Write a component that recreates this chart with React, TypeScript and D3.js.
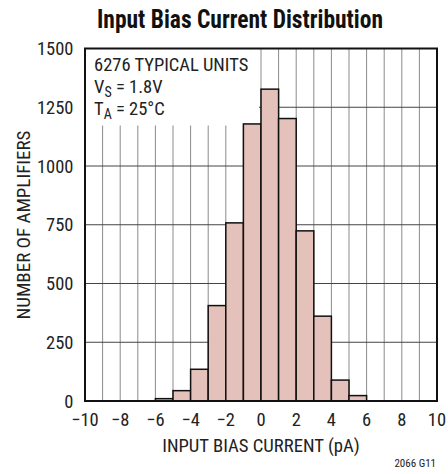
import * as d3 from 'd3';
import React, { useEffect, useRef } from 'react';

// histogram bins: lower edge (pA) and count
const binStarts = [-6, -5, -4, -3, -2, -1, 0, 1, 2, 3, 4, 5];
const binCounts = [10, 44, 135, 406, 758, 1179, 1327, 1202, 724, 361, 89, 23];
const xTicks = [-10, -8, -6, -4, -2, 0, 2, 4, 6, 8, 10];
const yTicks = [0, 250, 500, 750, 1000, 1250, 1500];

const FONT = '"Liberation Sans Narrow", "Roboto Condensed", "Arial Narrow", sans-serif';

const App = (): React.JSX.Element => {
	const ref = useRef<SVGSVGElement | null>(null);

	useEffect(() => {
		if (ref.current === null) return;
		const root = d3.select(ref.current);
		root.selectAll('*').remove();

		const width = 448;
		const height = 474;
		const margin = { top: 48.5, right: 11, bottom: 73, left: 85 };

		const x = d3.scaleLinear().domain([-10, 10]).range([margin.left, width - margin.right]);
		const y = d3.scaleLinear().domain([0, 1500]).range([height - margin.bottom, margin.top]);

		const svg = root
			.attr('width', width)
			.attr('height', height)
			.style('font-family', FONT);

		svg.append('rect').attr('width', width).attr('height', height).attr('fill', '#fff');

		// grid
		const grid = svg.append('g');
		grid.selectAll('line.v')
			.data(d3.range(-9, 10))
			.enter()
			.append('line')
			.attr('x1', (d) => x(d))
			.attr('x2', (d) => x(d))
			.attr('y1', y(0))
			.attr('y2', y(1500))
			.attr('stroke', '#8a8a8a')
			.attr('stroke-width', 1);
		grid.selectAll('line.h')
			.data(yTicks.slice(1, -1))
			.enter()
			.append('line')
			.attr('x1', x(-10))
			.attr('x2', x(10))
			.attr('y1', (d) => y(d))
			.attr('y2', (d) => y(d))
			.attr('stroke', '#444')
			.attr('stroke-width', 1);

		// white annotation box
		svg.append('rect')
			.attr('x', x(-10))
			.attr('y', y(1500))
			.attr('width', 174)
			.attr('height', 77)
			.attr('fill', '#fff');

		// bars
		svg.selectAll('rect.bar')
			.data(binStarts)
			.enter()
			.append('rect')
			.attr('class', 'bar')
			.attr('x', (d) => x(d))
			.attr('y', (_, i) => y(binCounts[i]))
			.attr('width', (d) => x(d + 1) - x(d))
			.attr('height', (_, i) => y(0) - y(binCounts[i]))
			.attr('fill', '#e4c1bb')
			.attr('stroke', '#111')
			.attr('stroke-width', 1.5);

		// frame
		svg.append('rect')
			.attr('x', x(-10))
			.attr('y', y(1500))
			.attr('width', x(10) - x(-10))
			.attr('height', y(0) - y(1500))
			.attr('fill', 'none')
			.attr('stroke', '#111')
			.attr('stroke-width', 2);

		// axes labels
		svg.selectAll('text.yt')
			.data(yTicks)
			.enter()
			.append('text')
			.attr('x', 73.5)
			.attr('y', (d) => y(d))
			.attr('dy', '0.36em')
			.attr('text-anchor', 'end')
			.attr('font-size', 18.5)
			.attr('fill', '#222')
			.text((d) => d);

		svg.selectAll('text.xt')
			.data(xTicks)
			.enter()
			.append('text')
			.attr('x', (d) => x(d))
			.attr('y', 426)
			.attr('text-anchor', 'middle')
			.attr('font-size', 18.5)
			.attr('fill', '#222')
			.text((d) => (d < 0 ? `\u2212${-d}` : `${d}`));

		svg.append('text')
			.attr('x', (x(-10) + x(10)) / 2)
			.attr('y', 451.5)
			.attr('text-anchor', 'middle')
			.attr('font-size', 18.7)
			.attr('fill', '#222')
			.text('INPUT BIAS CURRENT (pA)');

		svg.append('text')
			.attr('transform', `translate(29.5, 225) rotate(-90)`)
			.attr('text-anchor', 'middle')
			.attr('font-size', 19)
			.attr('fill', '#222')
			.text('NUMBER OF AMPLIFIERS');

		svg.append('text')
			.attr('x', 436)
			.attr('y', 467)
			.attr('text-anchor', 'end')
			.attr('font-size', 11)
			.attr('fill', '#222')
			.text('2066 G11');

		svg.append('text')
			.attr('x', 240)
			.attr('y', 28)
			.attr('text-anchor', 'middle')
			.attr('font-size', 26)
			.attr('font-weight', 'bold')
			.attr('textLength', 286)
			.attr('lengthAdjust', 'spacingAndGlyphs')
			.attr('fill', '#111')
			.text('Input Bias Current Distribution');

		// annotation
		const note = svg.append('g').attr('font-size', 18.5).attr('fill', '#222');
		note.append('text').attr('x', 94).attr('y', 71).text('6276 TYPICAL UNITS');
		const vs = note.append('text').attr('x', 94).attr('y', 93);
		vs.append('tspan').text('V');
		vs.append('tspan').attr('dy', 4).attr('font-size', 14).text('S');
		vs.append('tspan').attr('dy', -4).text(' = 1.8V');
		const ta = note.append('text').attr('x', 94).attr('y', 115);
		ta.append('tspan').text('T');
		ta.append('tspan').attr('dy', 4).attr('font-size', 14).text('A');
		ta.append('tspan').attr('dy', -4).text(' = 25°C');
	}, []);

	return <svg ref={ref} style={{ display: 'block', position: 'absolute', left: 0, top: 0 }} />;
};

export default App;
